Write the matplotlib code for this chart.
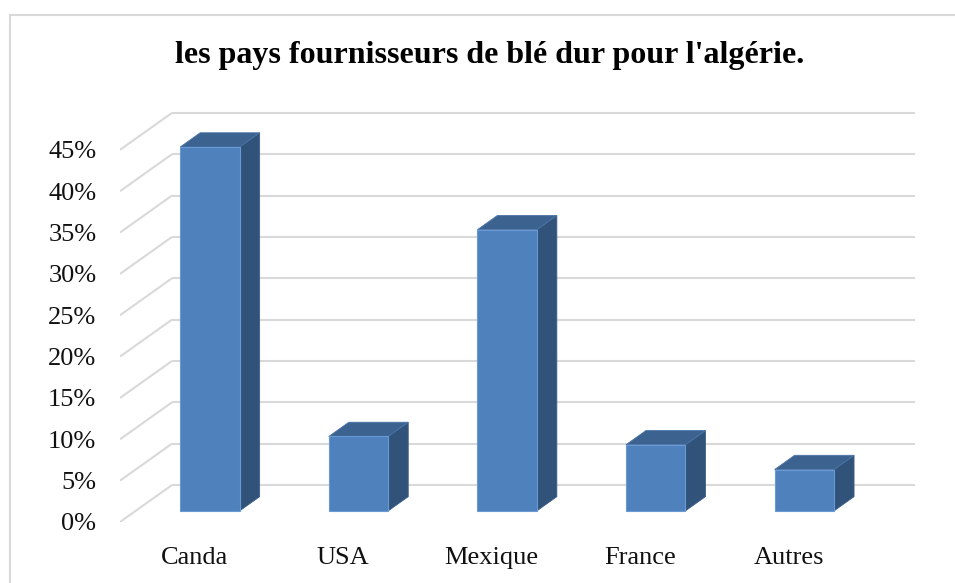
import matplotlib
matplotlib.use("Agg")
import matplotlib.pyplot as plt
from matplotlib.patches import Polygon, Rectangle
import numpy as np

# ---- data ----
categories = ['Canda', 'USA', 'Mexique', 'France', 'Autres']
values = [44, 9, 34, 8, 5]            # percent
tick_values = [0, 5, 10, 15, 20, 25, 30, 35, 40, 45]
tick_labels = ['0%', '5%', '10%', '15%', '20%', '25%', '30%', '35%', '40%', '45%']
title = "les pays fournisseurs de blé dur pour l'algérie."

# ---- style ----
plt.rcParams['font.family'] = ['Liberation Serif', 'DejaVu Serif']
W, H = 955, 583
fig = plt.figure(figsize=(W / 100, H / 100), dpi=100)

# front plane pixel geometry
x_left_px, y_zero_px = 120, 522
cat_px = 148.6          # px per category
pct_px = 8.27           # px per percent
xmax, ymax = 5.4, 50.0
ax = fig.add_axes([x_left_px / W, (H - y_zero_px) / H,
                   xmax * cat_px / W, ymax * pct_px / H])
ax.set_xlim(0, xmax)
ax.set_ylim(0, ymax)
for s in ax.spines.values():
    s.set_visible(False)
ax.patch.set_alpha(0)

# depth vector (data units) for full floor depth
DX = 52 / cat_px
DY = 37 / pct_px
grid_c = '#D9D9D9'
n = len(categories)

# back wall + side wall gridlines
for v in tick_values:
    ax.plot([0, DX], [v, v + DY], color=grid_c, lw=1.5, zorder=1,
            solid_capstyle='butt')
    ax.plot([DX, n + DX], [v + DY, v + DY], color=grid_c, lw=1.5, zorder=1,
            solid_capstyle='butt')

# 3D bars
bw = 0.4
z1, z2 = 0.30, 0.685
c_front, c_side, c_top = '#4F81BD', '#325379', '#3C6390'


def P(x, y, z):
    return (x + z * DX, y + z * DY)


for i, v in enumerate(values):
    x0, x1 = i + 0.5 - bw / 2, i + 0.5 + bw / 2
    front = [P(x0, 0, z1), P(x1, 0, z1), P(x1, v, z1), P(x0, v, z1)]
    side = [P(x1, 0, z1), P(x1, 0, z2), P(x1, v, z2), P(x1, v, z1)]
    top = [P(x0, v, z1), P(x1, v, z1), P(x1, v, z2), P(x0, v, z2)]
    ax.add_patch(Polygon(side, closed=True, fc=c_side, ec='#3A5F8C', lw=0.6, zorder=3))
    ax.add_patch(Polygon(top, closed=True, fc=c_top, ec='#4A74A8', lw=0.6, zorder=3))
    ax.add_patch(Polygon(front, closed=True, fc=c_front, ec='#6A9AD6', lw=0.8, zorder=4))

# axes ticks
ax.set_yticks(tick_values)
ax.set_yticklabels(tick_labels, fontsize=19, color='#111111')
ax.tick_params(axis='y', length=0, pad=17)
for lbl in ax.get_yticklabels():
    lbl.set_va('center_baseline')
ax.set_xticks(np.arange(n) + 0.5)
ax.set_xticklabels(categories, fontsize=19, color='#111111')
ax.tick_params(axis='x', length=0, pad=18)

# title
fig.text(490 / W, 1 - 56 / H, title, ha='center', va='center',
         fontsize=23, fontweight='bold', color='black')

# outer chart border
fig.add_artist(Rectangle((10 / W, -0.01), 1.0, 1 - 15 / H + 0.01,
                         transform=fig.transFigure, fill=False,
                         ec=grid_c, lw=1.5))

fig.savefig('out.png', dpi=100)
